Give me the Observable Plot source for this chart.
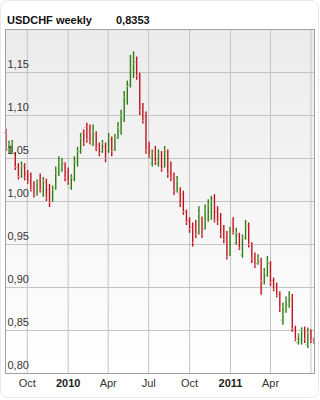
<!DOCTYPE html>
<html><head><meta charset="utf-8">
<script src="https://cdn.jsdelivr.net/npm/d3@7"></script>
<script src="https://cdn.jsdelivr.net/npm/@observablehq/plot@0.6"></script>
<style>
html,body{margin:0;padding:0;background:#fff;}
#wrap{position:relative;width:320px;height:400px;overflow:hidden;font-family:"Liberation Sans",Arial,sans-serif;}
#border{position:absolute;left:0;top:0;width:317px;height:396px;border:1px solid #e8e8e8;border-radius:8px;pointer-events:none;}
#title{position:relative;height:18px;font-size:11px;font-weight:bold;color:#111;}
#title span{position:absolute;top:14px;line-height:13px;white-space:nowrap;}
#chart svg{display:block;}
</style></head>
<body>
<div id="wrap">
  <div id="title"><span id="t1" style="left:7px"></span><span id="t2" style="left:116px"></span></div>
  <div id="chart"></div>
  <div id="border"></div>
</div>
<script>
const titleText = "USDCHF weekly";
const lastValueText = "0,8353";

const firstWeek = "2009-08-14";
const open  = [1.080,1.060,1.062,1.056,1.040,1.029,1.041,1.032,1.024,1.016,1.008,1.024,1.012,1.022,1.014,1.000,1.015,1.034,1.036,1.044,
               1.034,1.016,1.026,1.046,1.058,1.080,1.086,1.082,1.066,1.078,1.066,1.058,1.064,1.058,1.072,1.060,1.074,1.082,1.096,1.118,
               1.136,1.150,1.162,1.146,1.108,1.098,1.062,1.044,1.058,1.044,1.054,1.040,1.058,1.036,1.030,1.012,1.010,1.008,0.988,0.978,
               0.970,0.972,0.963,0.980,0.968,0.980,0.988,1.004,0.988,0.982,0.968,0.958,0.938,0.976,0.952,0.960,0.938,0.958,0.972,0.950,
               0.934,0.928,0.930,0.905,0.914,0.928,0.908,0.900,0.892,0.862,0.874,0.880,0.886,0.852,0.836,0.840,0.850,0.834,0.850,0.840];
const high  = [1.084,1.070,1.071,1.057,1.044,1.046,1.044,1.036,1.033,1.023,1.025,1.032,1.028,1.026,1.020,1.018,1.040,1.052,1.050,1.045,
               1.039,1.031,1.052,1.063,1.079,1.083,1.091,1.089,1.089,1.081,1.068,1.071,1.068,1.079,1.075,1.078,1.092,1.106,1.128,1.140,
               1.170,1.174,1.168,1.149,1.114,1.104,1.069,1.060,1.064,1.060,1.058,1.064,1.060,1.046,1.033,1.029,1.016,1.012,0.990,0.981,
               0.975,0.978,0.994,0.982,0.996,1.002,1.006,1.008,0.994,0.986,0.972,0.965,0.970,0.981,0.969,0.963,0.961,0.978,0.975,0.952,
               0.940,0.938,0.934,0.922,0.936,0.930,0.911,0.905,0.895,0.882,0.889,0.895,0.892,0.855,0.846,0.853,0.854,0.853,0.851,0.841];
const low   = [1.058,1.055,1.056,1.036,1.025,1.027,1.024,1.020,1.011,1.004,1.006,1.010,1.005,1.000,0.993,0.999,1.013,1.029,1.034,1.023,
               1.019,1.013,1.023,1.040,1.055,1.064,1.068,1.066,1.064,1.058,1.052,1.056,1.045,1.056,1.052,1.058,1.072,1.077,1.092,1.112,
               1.132,1.143,1.141,1.100,1.090,1.055,1.050,1.040,1.042,1.040,1.034,1.039,1.027,1.023,1.007,1.010,0.993,0.984,0.972,0.963,
               0.947,0.957,0.961,0.957,0.967,0.976,0.978,0.975,0.972,0.957,0.951,0.932,0.936,0.961,0.949,0.943,0.934,0.955,0.946,0.928,
               0.922,0.926,0.891,0.903,0.912,0.901,0.895,0.888,0.871,0.856,0.870,0.876,0.848,0.837,0.833,0.833,0.835,0.829,0.835,0.834];
const close = [1.062,1.067,1.068,1.040,1.029,1.041,1.028,1.023,1.014,1.008,1.022,1.013,1.024,1.004,0.999,1.014,1.034,1.046,1.046,1.028,
               1.023,1.028,1.046,1.058,1.074,1.068,1.072,1.070,1.082,1.062,1.056,1.068,1.050,1.074,1.058,1.074,1.086,1.100,1.122,1.134,
               1.156,1.160,1.146,1.106,1.094,1.060,1.053,1.056,1.046,1.056,1.038,1.060,1.032,1.028,1.012,1.024,0.998,0.988,0.976,0.968,
               0.952,0.962,0.986,0.962,0.990,0.996,1.000,0.978,0.976,0.962,0.956,0.936,0.962,0.964,0.964,0.946,0.958,0.972,0.950,0.934,
               0.926,0.934,0.908,0.918,0.930,0.906,0.898,0.891,0.876,0.878,0.886,0.890,0.852,0.840,0.844,0.850,0.840,0.848,0.838,0.8353];

const yTicks = [0.80,0.85,0.90,0.95,1.00,1.05,1.10,1.15];
const xTicks = ["2009-10-01","2010-01-01","2010-04-01","2010-07-01","2010-10-01","2011-01-01","2011-04-01","2011-07-01"];
const xTickLabels = ["Oct","2010","Apr","Jul","Oct","2011","Apr",""];
const xDomain = ["2009-08-13","2011-07-09"];
const yDomain = [0.80,1.20];

const upColor = "#2f7a12", downColor = "#c0121c";
const upTick = "#9cc98a", downTick = "#eea0a4";

document.getElementById("t1").textContent = titleText;
document.getElementById("t2").textContent = lastValueText;

const start = new Date(firstWeek);
const data = open.map((o, i) => ({
  date: d3.utcDay.offset(start, 7 * i),
  open: o, high: high[i], low: low[i], close: close[i]
}));
const xt = xTicks.map((d, i) => ({date: new Date(d), label: xTickLabels[i], bold: /^\d{4}$/.test(xTickLabels[i])}));
const fmt = d => d.toFixed(2).replace(".", ",");

const gradient = () => {
  const defs = d3.create("svg:defs");
  const g = defs.append("linearGradient").attr("id", "bgGrad").attr("x1", 0).attr("x2", 0).attr("y1", 0).attr("y2", 1);
  g.append("stop").attr("offset", "0%").attr("stop-color", "#ebebeb");
  g.append("stop").attr("offset", "100%").attr("stop-color", "#ffffff");
  return defs.node();
};

const chart = Plot.plot({
  width: 320,
  height: 382,
  marginTop: 11,
  marginBottom: 27,
  marginLeft: 5,
  marginRight: 6,
  style: {fontFamily: "'Liberation Sans', Arial, sans-serif", fontSize: "11px", background: "transparent"},
  x: {type: "utc", domain: xDomain.map(d => new Date(d)), axis: null},
  y: {domain: yDomain, axis: null},
  marks: [
    gradient,
    Plot.frame({fill: "url(#bgGrad)", stroke: null}),
    Plot.ruleX(xt, {x: "date", stroke: "#c4c4c4", strokeWidth: 1}),
    Plot.ruleY(yTicks, {y: d => d, stroke: "#c4c4c4", strokeWidth: 1}),
    Plot.ruleX(data, {x: "date", y1: "low", y2: "high", stroke: d => d.close >= d.open ? upColor : downColor, strokeWidth: 1.4}),
    Plot.ruleY(data, {x1: "date", x2: "date", y: "open", insetLeft: -2, stroke: d => d.close >= d.open ? upTick : downTick, strokeWidth: 1}),
    Plot.ruleY(data, {x1: "date", x2: "date", y: "close", insetRight: -2, stroke: d => d.close >= d.open ? upTick : downTick, strokeWidth: 1}),
    Plot.frame({stroke: "#a0a0a0"}),
    Plot.text(yTicks, {y: d => d, frameAnchor: "left", text: fmt, textAnchor: "start", dx: 2, dy: -8, fill: "#333"}),
    Plot.text(xt.filter(d => !d.bold && d.label), {x: "date", frameAnchor: "bottom", text: "label", dy: 13, fill: "#333"}),
    Plot.text(xt.filter(d => d.bold), {x: "date", frameAnchor: "bottom", text: "label", dy: 13, fill: "#222", fontWeight: "bold"})
  ]
});
document.getElementById("chart").appendChild(chart);
</script>
</body></html>
